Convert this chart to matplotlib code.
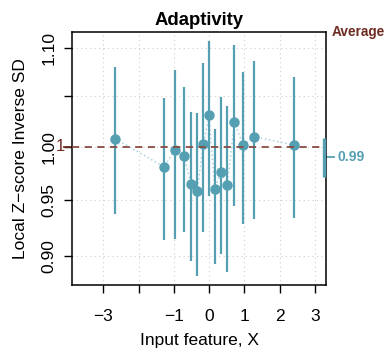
import numpy as np
import matplotlib
matplotlib.use("Agg")
from matplotlib import pyplot as plt
import matplotlib.transforms as mtransforms

plt.rcParams['font.family'] = ['Liberation Sans', 'DejaVu Sans']

# local estimates of the inverse SD of the z-scores, with intervals
x_feat = [-2.67, -1.28, -0.97, -0.72, -0.51, -0.34, -0.16, 0.00, 0.16, 0.33, 0.51, 0.72, 0.96, 1.28, 2.41]
isd = [1.008, 0.981, 0.997, 0.991, 0.965, 0.958, 1.003, 1.031, 0.960, 0.976, 0.964, 1.024, 1.002, 1.010, 1.002]
isd_lo = [0.937, 0.914, 0.915, 0.921, 0.896, 0.883, 0.921, 0.954, 0.893, 0.902, 0.886, 0.945, 0.928, 0.933, 0.934]
isd_hi = [1.080, 1.048, 1.077, 1.060, 1.034, 1.033, 1.085, 1.108, 1.018, 1.049, 1.040, 1.103, 1.075, 1.087, 1.070]

avg = 0.99
avg_lo, avg_hi = 0.971, 1.009
target = 1.0

xticks = [-3, -2, -1, 0, 1, 2, 3]
xticklabels = ['\u22123', '', '\u22121', '0', '1', '2', '3']
yticks = [0.90, 0.95, 1.00, 1.05, 1.10]
yticklabels = ['0.90', '0.95', '1.00', '', '1.10']

teal = '#559fb3'
darkred = '#6e2b22'

fig = plt.figure(figsize=(3.85, 3.51), dpi=100)
ax = fig.add_axes([0.187, 0.188, 0.660, 0.721])
ax.set_yscale('log')

# grid
for xt in xticks:
    ax.axvline(xt, color='#cfcfcf', lw=0.8, ls=(0, (1, 3)), zorder=0)
for yt in yticks:
    ax.axhline(yt, color='#cfcfcf', lw=0.8, ls=(0, (1, 3)), zorder=0)

ax.plot(x_feat, isd, color='#9ccbd8', lw=1.0, ls=(0, (1, 2)), zorder=1)
ax.vlines(x_feat, isd_lo, isd_hi, color=teal, lw=1.6, zorder=2)
ax.plot(x_feat, isd, 'o', color=teal, ms=6.5, mec=teal, zorder=3)

ax.axhline(target, color='#8a4b43', lw=1.3, ls=(0, (4, 3)), zorder=4)

# average interval on the right edge
tr = mtransforms.blended_transform_factory(ax.transAxes, ax.transData)
ax.plot([0.992, 0.992], [avg_lo, avg_hi], color=teal, lw=2.4, transform=tr,
        clip_on=False, zorder=5, solid_capstyle='butt')
ax.plot([1.0, 1.03], [avg, avg], color=teal, lw=1.3, transform=tr, clip_on=False)
ax.text(1.043, avg, '%.2f' % avg, color=teal, fontsize=10, fontweight='bold',
        ha='left', va='center', transform=tr)
ax.text(1.02, 1.0, 'Average', color=darkred, fontsize=9.8, fontweight='bold',
        ha='left', va='center', transform=ax.transAxes)

# target marker on the left
ax.plot([-0.032, 0.0], [target, target], color=darkred, lw=1.3, transform=tr, clip_on=False)
ax.text(-0.045, target, '1', color=darkred, fontsize=12, ha='center', va='center',
        transform=tr)

ax.set_xlim(-3.89, 3.32)
ax.set_ylim(0.8752, 1.1175)
ax.set_xticks(xticks)
ax.set_xticklabels(xticklabels)
ax.set_yticks(yticks)
ax.set_yticklabels(yticklabels, rotation=90, va='center')
ax.yaxis.set_minor_locator(matplotlib.ticker.NullLocator())
ax.tick_params(axis='both', length=6, width=1.0, labelsize=12.5)
ax.tick_params(axis='x', pad=11)
ax.tick_params(axis='y', pad=5)

for s in ax.spines.values():
    s.set_linewidth(1.1)

ax.set_title('Adaptivity', fontsize=13.3, fontweight='bold', pad=5)
ax.set_xlabel('Input feature, X', fontsize=12.5, labelpad=7)
ax.set_ylabel('Local Z\u2212score Inverse SD', fontsize=12.5, labelpad=10)

plt.savefig('out.png', dpi=100)
